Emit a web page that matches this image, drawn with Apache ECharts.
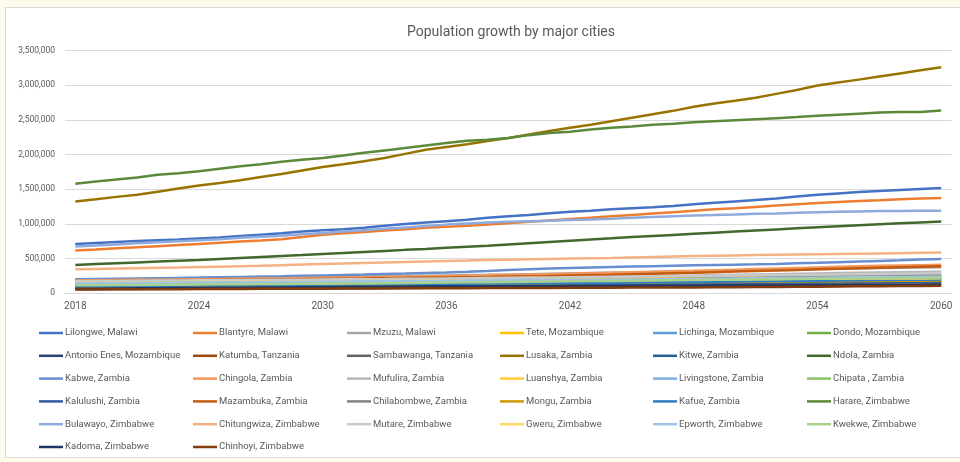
<!DOCTYPE html>
<html>
<head>
<meta charset="utf-8">
<title>Population growth by major cities</title>
<script src="https://cdn.jsdelivr.net/npm/echarts@6/dist/echarts.min.js"></script>
<style>
  html, body { margin: 0; padding: 0; background: #FDFBEC; }
  #frame { position: absolute; left: 5px; top: 7px; width: 970px; height: 449px;
           background: #ffffff; border: 1px solid #D9D9D9; }
  #chart { position: absolute; left: 0; top: 0; width: 960px; height: 462px; }
</style>
</head>
<body>
<div id="frame"></div>
<div id="chart"></div>
<script>
// Years on the category axis
const years = [
  '2018','2019','2020','2021','2022','2023','2024','2025','2026','2027',
  '2028','2029','2030','2031','2032','2033','2034','2035','2036','2037',
  '2038','2039','2040','2041','2042','2043','2044','2045','2046','2047',
  '2048','2049','2050','2051','2052','2053','2054','2055','2056','2057',
  '2058','2059','2060'
];

// Population per city, in thousands of people, 2018-2060
const lilongwe = [
  710,725,740,755,765,775,790,805,825,845,
  865,890,910,925,945,975,1000,1020,1040,1060,
  1090,1110,1130,1155,1175,1190,1210,1225,1240,1260,
  1285,1305,1325,1345,1365,1395,1420,1440,1460,1475,
  1490,1505,1517];
const blantyre = [
  616,630,650,665,680,695,712,728,745,762,
  780,810,845,865,885,905,925,945,960,975,
  990,1010,1030,1050,1070,1090,1110,1130,1150,1170,
  1190,1210,1225,1245,1265,1285,1300,1315,1330,1342,
  1355,1365,1375];
const mzuzu = [
  195,198,201,204,207,210,213,216,219,222,
  226,230,234,238,242,246,250,254,258,262,
  266,271,276,281,286,291,296,301,306,311,
  316,321,326,331,336,341,347,353,359,365,
  370,373,377];
const tete = [
  150,152,154,156,158,160,162,164,166,168,
  170,172,175,178,181,184,187,190,193,196,
  200,204,208,212,216,220,224,228,232,235,
  238,240,242,243,244,245,246,247,248,249,
  250,250,251];
const lichinga = [
  130,132,134,136,138,140,142,144,146,148,
  150,152,154,156,158,160,162,164,166,168,
  170,172,174,176,178,180,182,184,186,188,
  190,192,194,196,198,201,204,207,210,213,
  216,218,220];
const dondo = [
  120,122,124,126,128,130,132,134,136,138,
  140,142,144,146,148,150,152,154,156,159,
  162,165,168,171,174,177,180,183,186,189,
  192,195,198,201,204,206,208,210,211,212,
  213,214,215];
const antonioEnes = [
  60,61,62,63,64,65,66,67,68,69,
  70,71,72,73,74,75,77,79,81,83,
  85,87,89,91,93,95,97,99,101,103,
  105,107,109,111,113,115,117,119,121,123,
  125,127,130];
const katumba = [
  110,112,114,116,118,120,122,124,126,128,
  130,132,134,136,138,140,143,146,149,152,
  155,158,161,164,167,170,174,178,182,186,
  190,194,198,202,206,210,214,218,222,226,
  229,231,233];
const sambawanga = [
  75,77,79,81,83,85,87,89,91,93,
  95,97,99,101,103,105,107,109,111,113,
  115,117,119,121,123,125,127,129,131,133,
  135,137,139,141,143,145,147,149,151,153,
  154,155,156];
const lusaka = [
  1325,1355,1390,1420,1465,1510,1555,1590,1630,1675,
  1720,1770,1820,1860,1905,1950,2010,2070,2110,2150,
  2195,2240,2290,2340,2385,2430,2480,2530,2580,2630,
  2690,2735,2775,2820,2875,2930,2995,3040,3080,3125,
  3170,3215,3260];
const kitwe = [
  95,97,99,101,103,105,107,109,111,113,
  115,116,117,118,119,120,121,122,123,124,
  125,126,127,128,129,130,131,132,133,134,
  135,140,146,152,158,164,170,176,180,184,
  186,188,190];
const ndola = [
  409,421,433,445,457,469,481,495,509,523,
  537,551,566,581,596,611,626,640,655,670,
  685,703,721,739,757,775,792,810,826,842,
  858,874,890,906,921,936,951,966,980,994,
  1008,1022,1035];
const kabwe = [
  202,206,210,214,218,222,226,231,236,241,
  246,252,258,264,270,277,284,292,300,309,
  320,335,348,358,365,372,379,385,391,397,
  403,408,413,418,424,432,440,449,458,467,
  476,486,496];
const chingola = [
  185,188,191,194,197,200,203,206,209,212,
  215,219,223,227,231,235,239,243,248,253,
  258,264,270,276,283,290,297,304,311,318,
  325,333,341,349,357,365,373,381,389,396,
  402,406,410];
const mufulira = [
  160,163,166,169,172,175,178,181,184,187,
  190,193,196,199,202,205,208,211,214,217,
  220,223,226,229,232,236,240,244,248,252,
  256,261,266,271,276,281,286,291,296,300,
  304,307,310];
const luanshya = [
  140,142,144,146,148,150,152,154,156,158,
  160,162,164,166,168,170,172,174,176,178,
  180,182,184,186,188,190,192,194,196,198,
  200,202,204,206,208,211,214,217,220,223,
  226,228,230];
const livingstone = [
  135,137,139,141,143,145,147,149,151,153,
  155,157,159,161,163,165,167,169,171,173,
  175,177,179,181,183,186,189,192,195,198,
  201,204,207,210,213,216,219,222,225,228,
  230,233,235];
const chipata = [
  125,127,129,131,133,135,137,139,141,143,
  145,147,150,153,156,159,162,165,168,171,
  174,177,180,183,186,189,192,195,198,201,
  204,207,210,213,216,220,224,228,232,236,
  239,242,245];
const kalulushi = [
  85,87,89,91,93,95,97,99,101,103,
  105,107,109,111,113,115,117,119,121,123,
  125,127,129,131,133,135,137,139,141,143,
  145,147,149,151,153,155,157,159,161,163,
  164,165,166];
const mazambuka = [
  170,173,176,179,182,185,188,191,194,197,
  200,203,206,209,212,216,220,224,228,232,
  236,241,246,251,257,263,269,276,283,290,
  297,305,313,321,329,337,345,353,361,369,
  376,383,390];
const chilabombwe = [
  90,93,96,99,102,105,108,111,114,117,
  120,124,128,132,136,140,144,148,152,156,
  160,165,170,175,180,185,190,195,200,205,
  210,215,220,225,230,235,240,245,250,255,
  260,265,270];
const mongu = [
  100,102,104,106,108,110,112,114,116,118,
  120,122,124,126,128,130,132,134,136,138,
  140,142,144,146,148,150,152,154,156,158,
  160,162,164,166,168,170,172,174,176,178,
  180,182,185];
const kafue = [
  100,102,104,106,108,110,112,114,116,118,
  120,122,124,126,128,130,132,134,136,138,
  140,142,144,146,148,150,152,155,158,161,
  164,167,170,173,176,179,182,185,188,191,
  194,197,200];
const harare = [
  1580,1610,1640,1670,1710,1730,1760,1795,1830,1860,
  1895,1925,1950,1985,2025,2060,2095,2130,2165,2200,
  2215,2240,2280,2310,2330,2360,2385,2405,2430,2445,
  2465,2480,2495,2510,2525,2540,2560,2575,2590,2605,
  2615,2615,2635];
const bulawayo = [
  675,690,705,720,735,750,765,780,800,815,
  830,850,870,890,910,930,950,970,990,1005,
  1020,1030,1040,1045,1055,1065,1075,1090,1100,1110,
  1120,1130,1135,1145,1150,1160,1170,1175,1180,1185,
  1185,1190,1190];
const chitungwiza = [
  347,352,357,362,367,372,378,384,390,396,
  405,414,422,430,437,444,451,458,465,472,
  480,485,490,495,500,505,510,517,524,530,
  536,541,546,551,555,559,563,567,571,575,
  579,583,587];
const mutare = [
  175,177,179,181,183,185,187,189,191,193,
  195,197,199,201,203,205,208,211,214,217,
  220,223,226,229,232,235,238,241,244,247,
  250,253,256,259,262,265,268,271,274,278,
  282,286,290];
const gweru = [
  155,157,158,160,161,163,164,166,167,169,
  170,172,173,175,176,178,179,181,182,184,
  185,187,188,190,191,193,194,196,197,199,
  200,202,203,205,206,208,209,211,212,213,
  214,215,216];
const epworth = [
  145,147,149,151,153,155,157,159,161,163,
  165,167,169,171,173,175,177,179,181,183,
  185,187,189,191,193,195,197,199,201,204,
  207,210,213,216,219,222,225,228,231,234,
  236,238,240];
const kwekwe = [
  115,117,119,121,123,125,127,129,131,133,
  135,137,139,141,143,146,149,152,155,158,
  161,164,167,170,173,176,179,182,185,188,
  191,194,197,200,203,206,209,212,215,218,
  220,222,225];
const kadoma = [
  65,67,69,71,73,75,77,79,81,83,
  85,87,89,91,93,95,96,97,98,99,
  100,101,102,103,104,105,106,107,108,109,
  110,111,112,113,114,115,116,117,118,119,
  120,121,122];
const chinhoyi = [
  55,56,57,58,59,60,61,62,63,64,
  65,66,67,68,69,70,71,72,73,74,
  75,76,77,78,79,80,81,82,83,84,
  85,86,88,90,92,94,96,98,100,102,
  104,107,110];

// City names, in legend order
const cities = [
  'Lilongwe, Malawi', 'Blantyre, Malawi', 'Mzuzu, Malawi',
  'Tete, Mozambique', 'Lichinga, Mozambique', 'Dondo, Mozambique',
  'Antonio Enes, Mozambique', 'Katumba, Tanzania', 'Sambawanga, Tanzania',
  'Lusaka, Zambia', 'Kitwe, Zambia', 'Ndola, Zambia',
  'Kabwe, Zambia', 'Chingola, Zambia', 'Mufulira, Zambia',
  'Luanshya, Zambia', 'Livingstone, Zambia', 'Chipata , Zambia',
  'Kalulushi, Zambia', 'Mazambuka, Zambia', 'Chilabombwe, Zambia',
  'Mongu, Zambia', 'Kafue, Zambia', 'Harare, Zimbabwe',
  'Bulawayo, Zimbabwe', 'Chitungwiza, Zimbabwe', 'Mutare, Zimbabwe',
  'Gweru, Zimbabwe', 'Epworth, Zimbabwe', 'Kwekwe, Zimbabwe',
  'Kadoma, Zimbabwe', 'Chinhoyi, Zimbabwe'
];

const cityValues = [
  lilongwe, blantyre, mzuzu, tete, lichinga, dondo,
  antonioEnes, katumba, sambawanga, lusaka, kitwe, ndola,
  kabwe, chingola, mufulira, luanshya, livingstone, chipata,
  kalulushi, mazambuka, chilabombwe, mongu, kafue, harare,
  bulawayo, chitungwiza, mutare, gweru, epworth, kwekwe,
  kadoma, chinhoyi
];

// Office-style series palette: accents, darker, lighter, dark, light, darkest
const palette = [
  '#4472C4', '#ED7D31', '#A5A5A5', '#FFC000', '#5B9BD5', '#70AD47',
  '#264478', '#9E480E', '#636363', '#997300', '#255E91', '#43682B',
  '#698ED0', '#F1975A', '#B7B7B7', '#FFCD33', '#7CAFDD', '#8CC168',
  '#325AA1', '#C55A11', '#848484', '#CC9A00', '#327DC2', '#5A8A39',
  '#8FAADC', '#F4B183', '#C9C9C9', '#FFD966', '#9DC3E6', '#A9D18E',
  '#203864', '#843C0C'
];

const TEXT = '#595959';
const FONT = 'Roboto, "Noto Sans", sans-serif';

const series = cities.map((name, i) => ({
  name: name,
  type: 'line',
  symbol: 'none',
  color: palette[i],
  lineStyle: { width: 2.5, color: palette[i] },
  emphasis: { disabled: true },
  data: cityValues[i].map(v => v * 1000)
}));

// Legend laid out as six columns, filled row by row
const colLeft = [39, 193, 347, 500, 653, 807];
const legends = colLeft.map((left, c) => ({
  orient: 'vertical',
  left: left,
  top: 327,
  padding: 0,
  itemGap: 10.8,
  itemWidth: 24,
  itemHeight: 2.5,
  icon: 'rect',
  selectedMode: false,
  textStyle: {
    color: TEXT, fontSize: 9.5, fontFamily: FONT, lineHeight: 12,
    padding: [0, 0, 0, -3]
  },
  data: cities.filter((_, i) => i % 6 === c)
}));

const chart = echarts.init(document.getElementById('chart'), null, { renderer: 'canvas' });
chart.setOption({
  animation: false,
  backgroundColor: 'transparent',
  title: {
    text: 'Population growth by major cities',
    left: 506,
    top: 20,
    textAlign: 'center',
    textStyle: { color: TEXT, fontSize: 14, fontWeight: 'normal', fontFamily: FONT }
  },
  legend: legends,
  grid: { left: 65, right: 8.5, top: 50.5, bottom: 168.7, containLabel: false },
  xAxis: {
    type: 'category',
    data: years,
    boundaryGap: true,
    axisLine: { lineStyle: { color: '#D9D9D9', width: 1 } },
    axisTick: { show: false },
    axisLabel: { interval: 5, color: TEXT, fontSize: 10, fontFamily: FONT, margin: 8 },
    splitLine: { show: false }
  },
  yAxis: {
    type: 'value',
    min: 0,
    max: 3500000,
    interval: 500000,
    axisLine: { show: false },
    axisTick: { show: false },
    axisLabel: {
      color: TEXT, fontSize: 8.5, fontFamily: FONT, margin: 10,
      formatter: v => v.toLocaleString('en-US')
    },
    splitLine: { lineStyle: { color: '#D9D9D9', width: 1 } }
  },
  series: series
});
</script>
</body>
</html>
